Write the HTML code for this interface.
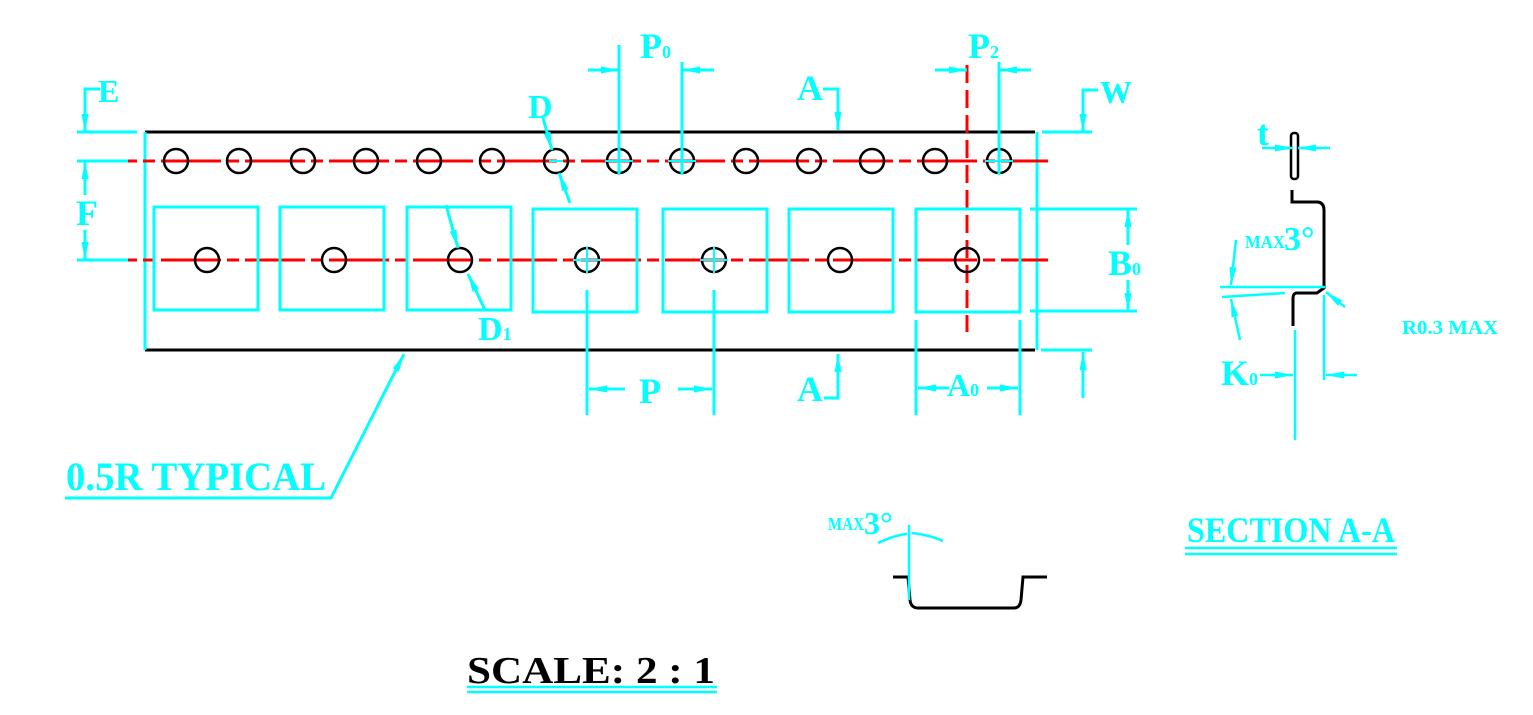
<!DOCTYPE html>
<html><head><meta charset="utf-8"><style>
html,body{margin:0;padding:0;background:#fff;}
svg{display:block}
text{font-family:"Liberation Serif",serif;font-weight:bold;fill:#00ffff}
</style></head><body>
<svg width="1533" height="715" viewBox="0 0 1533 715" xmlns="http://www.w3.org/2000/svg">
<defs>
<marker id="a" viewBox="0 0 18 7" refX="18" refY="3.5" markerWidth="18" markerHeight="7" markerUnits="userSpaceOnUse" orient="auto">
<path d="M0,0 L18,3.5 L0,7 Z" fill="#00ffff"/>
</marker>
</defs>
<g fill="none" stroke-width="3">
<path d="M145,132 H1035 M145,350 H1035" stroke="#000"/>
<path d="M145,132 V350" stroke="#00ffff"/>
<path d="M1037,132 V350" stroke="#00ffff"/>
<g stroke="#ff0000" stroke-width="3">
<path d="M77,161 H1048" stroke-dasharray="60,6,12,6"/>
<path d="M77,260 H1048" stroke-dasharray="60,6,12,6"/>
<path d="M967,65 V332" stroke-dasharray="18,7"/>
</g>
<g stroke="#00ffff">
<rect x="154" y="207" width="104" height="103"/>
<rect x="280" y="207" width="104" height="103"/>
<rect x="407" y="207" width="104" height="103"/>
<rect x="533" y="209" width="104" height="103"/>
<rect x="663" y="209" width="104" height="103"/>
<rect x="789" y="209" width="104" height="103"/>
<rect x="916" y="209" width="104" height="103"/>
</g>
<g stroke="#000" stroke-width="2.5">
<circle cx="176" cy="161" r="12"/><circle cx="239" cy="161" r="12"/><circle cx="303" cy="161" r="12"/>
<circle cx="366" cy="161" r="12"/><circle cx="429" cy="161" r="12"/><circle cx="492" cy="161" r="12"/>
<circle cx="556" cy="161" r="12"/><circle cx="619" cy="161" r="12"/><circle cx="682" cy="161" r="12"/>
<circle cx="746" cy="161" r="12"/><circle cx="809" cy="161" r="12"/><circle cx="872" cy="161" r="12"/>
<circle cx="935" cy="161" r="12"/><circle cx="999" cy="161" r="12"/>
<circle cx="207" cy="260" r="12"/><circle cx="334" cy="260" r="12"/><circle cx="460" cy="260" r="12"/>
<circle cx="587" cy="260" r="12"/><circle cx="714" cy="260" r="12"/><circle cx="840" cy="260" r="12"/>
<circle cx="967" cy="260" r="12"/>
</g>
<g stroke="#00ffff" stroke-width="2">
<path d="M549,161 H563"/>
<path d="M605,161 H633 M682,147 V175 M668,161 H696 M985,161 H1013"/>
<path d="M573,260 H601 M587,247 V273 M700,260 H728 M714,247 V273"/>
</g>
<g stroke="#00ffff" stroke-width="3">
<path d="M77,132 H137 M77,161 H128 M77,260 H128"/>
<path d="M100,89 H85 V132" marker-end="url(#a)"/>
<path d="M85,195 V161" marker-end="url(#a)"/>
<path d="M85,230 V260" marker-end="url(#a)"/>
<path d="M619,45 V175 M682,62 V175 M999,62 V175"/>
<path d="M588,70 H619" marker-end="url(#a)"/>
<path d="M714,70 H682" marker-end="url(#a)"/>
<path d="M935,70 H967" marker-end="url(#a)"/>
<path d="M1031,70 H999" marker-end="url(#a)"/>
<path d="M823,89 H838 V130" marker-end="url(#a)"/>
<path d="M824,398 H838 V354" marker-end="url(#a)"/>
<path d="M1042,132 H1092 M1041,350 H1092"/>
<path d="M1098,90 H1083 V132" marker-end="url(#a)"/>
<path d="M1083,398 V352" marker-end="url(#a)"/>
<path d="M1030,209 H1137 M1030,311 H1137"/>
<path d="M1128,245 V209" marker-end="url(#a)"/>
<path d="M1128,280 V311" marker-end="url(#a)"/>
<path d="M587,290 V415 M714,290 V415 M916,320 V415 M1020,320 V415"/>
<path d="M625,389 H589" marker-end="url(#a)"/>
<path d="M678,389 H712" marker-end="url(#a)"/>
<path d="M949,388 H918" marker-end="url(#a)"/>
<path d="M987,388 H1018" marker-end="url(#a)"/>
<path d="M543,118 L552,150" marker-end="url(#a)"/>
<path d="M570,203 L559,173" marker-end="url(#a)"/>
<path d="M446,205 L458,248" marker-end="url(#a)"/>
<path d="M485,310 L468,274" marker-end="url(#a)"/>
<path d="M65,498 H331 L404,354" marker-end="url(#a)"/>
<path d="M1185,548 H1397 M1185,554 H1397" stroke-width="2.5"/>
<path d="M467,687 H717 M467,692 H717" stroke-width="2.5"/>
</g>
<rect x="1291" y="133" width="7" height="46" rx="3" stroke="#000" stroke-width="2.5"/>
<path d="M1292,190 V202 H1318 Q1324,203 1324,210 V288 L1317,293 H1296 Q1293,294 1293,298 V326" stroke="#000" stroke-width="3"/>
<g stroke="#00ffff" stroke-width="2.5">
<path d="M1262,148 H1293" marker-end="url(#a)"/>
<path d="M1330,148 H1298" marker-end="url(#a)"/>
<path d="M1220,287 H1325 M1222,297 L1285,293"/>
<path d="M1236,240 L1231,285" marker-end="url(#a)"/>
<path d="M1240,340 L1231,299" marker-end="url(#a)"/>
<path d="M1295,330 V440 M1324,295 V380"/>
<path d="M1260,375 H1293" marker-end="url(#a)"/>
<path d="M1357,375 H1326" marker-end="url(#a)"/>
<path d="M1345,307 L1326,292" marker-end="url(#a)"/>
</g>
<path d="M893,577 H908 L910,600 Q911,608 918,608 H1014 Q1020,608 1021,600 L1023,577 H1047" stroke="#000" stroke-width="3"/>
<g stroke="#00ffff" stroke-width="2.5">
<path d="M909,525 V600"/>
<path d="M878,543 Q895,535 907,534 M912,533 Q930,535 943,541"/>
</g>
</g>
<text x="98" y="102" font-size="32">E</text>
<text x="76" y="225" font-size="36">F</text>
<text x="640" y="58" font-size="36">P<tspan font-size="18">0</tspan></text>
<text x="968" y="58" font-size="36">P<tspan font-size="18">2</tspan></text>
<text x="797" y="100" font-size="36">A</text>
<text x="797" y="401" font-size="36">A</text>
<text x="1100" y="103" font-size="32">W</text>
<text x="528" y="118" font-size="34">D</text>
<text x="478" y="340" font-size="34">D<tspan font-size="18">1</tspan></text>
<text x="1108" y="275" font-size="36">B<tspan font-size="18">0</tspan></text>
<text x="639" y="403" font-size="36">P</text>
<text x="947" y="396" font-size="32">A<tspan font-size="18">0</tspan></text>
<text x="66" y="490" font-size="40" textLength="260" lengthAdjust="spacingAndGlyphs">0.5R TYPICAL</text>
<text x="1257" y="145" font-size="36">t</text>
<text x="1245" y="248" font-size="18" textLength="40" lengthAdjust="spacingAndGlyphs">MAX</text>
<text x="1284" y="250" font-size="34">3°</text>
<text x="1221" y="385" font-size="36">K<tspan font-size="18">0</tspan></text>
<text x="1402" y="334" font-size="20" textLength="96" lengthAdjust="spacingAndGlyphs">R0.3 MAX</text>
<text x="828" y="530" font-size="18" textLength="36" lengthAdjust="spacingAndGlyphs">MAX</text>
<text x="864" y="534" font-size="32">3°</text>
<text x="1187" y="542" font-size="36" textLength="208" lengthAdjust="spacingAndGlyphs">SECTION A-A</text>
<text x="467" y="683" font-size="38" style="fill:#000" textLength="248" lengthAdjust="spacingAndGlyphs">SCALE: 2 : 1</text>
</svg>
</body></html>
